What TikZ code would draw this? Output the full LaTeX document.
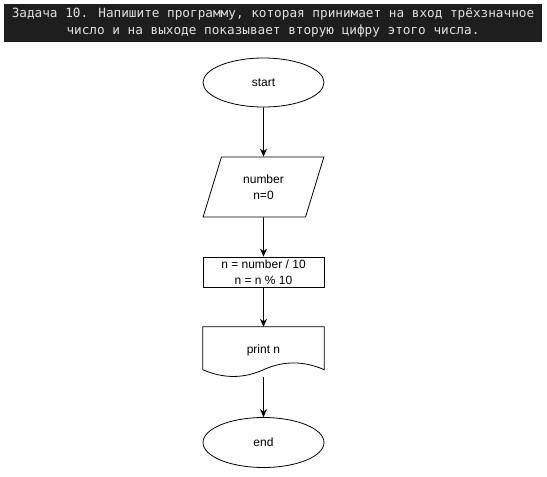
\documentclass[tikz,border=0pt]{standalone}
\usepackage{fontspec}
\setmainfont{Liberation Sans}
\newfontfamily\taskfont{DejaVu Sans Mono}
\usepackage{tikz}
\usetikzlibrary{arrows.meta,positioning,shapes.geometric,calc}
\definecolor{taskBar}{HTML}{1E1E1E}
\definecolor{taskText}{HTML}{E2E2E2}
\definecolor{chartInk}{HTML}{000000}
\tikzset{
  headerbar/.style={
    rectangle,
    fill=taskBar,
    minimum width=538pt,
    minimum height=38pt,
    inner sep=0pt,
    align=center,
    text=taskText,
    font=\taskfont\fontsize{12.7}{17}\selectfont
  },
  terminal/.style={
    ellipse,
    draw=chartInk,
    line width=0.8pt,
    minimum width=121pt,
    minimum height=49pt,
    inner sep=0pt,
    align=center,
    font=\fontsize{12}{15.5}\selectfont
  },
  inputbox/.style={
    trapezium,
    trapezium left angle=70,
    trapezium right angle=110,
    trapezium stretches=true,
    draw=chartInk,
    line width=0.8pt,
    minimum width=121pt,
    minimum height=60pt,
    inner sep=0pt,
    align=center,
    font=\fontsize{12}{15.5}\selectfont
  },
  process/.style={
    rectangle,
    draw=chartInk,
    line width=0.8pt,
    minimum width=121pt,
    minimum height=30pt,
    inner sep=0pt,
    align=center,
    font=\fontsize{12}{15.5}\selectfont
  },
  docshape/.style={
    rectangle,
    minimum width=121pt,
    minimum height=50pt,
    inner sep=0pt,
    align=center,
    font=\fontsize{12}{15.5}\selectfont
  },
  arrow/.style={
    -{Stealth[length=8pt,width=7pt]},
    line width=0.8pt,
    draw=chartInk
  }
}

\begin{document}
\begin{tikzpicture}[x=1pt,y=-1pt]
  \useasboundingbox[fill=white] (0,0) rectangle (547,477);
  \node[headerbar] (task) at (273,23) {Задача 10. Напишите программу, которая принимает на вход трёхзначное\\число и на выходе показывает вторую цифру этого числа.};
  \node[terminal] (start) at (263.5,82.5) {start};
  \node[inputbox] (input) at (263.5,187) {number\\n=0};
  \node[process] (calc) at (263.5,272) {n = number / 10\\n = n \% 10};
  \node[docshape] (printn) at (263.5,352) {\raisebox{6pt}{print n}};
  \node[terminal,minimum height=50pt] (end) at (263.5,442.5) {end};
  % document outline with wavy bottom
  \draw[chartInk,line width=0.8pt] (printn.north west) -- (printn.north east)
    -- ($(printn.south east)+(0,-7.5)$)
    .. controls +(-20.5,-9) and +(19.8,-9) .. ($(printn.south)+(0,-7.5)$)
    .. controls +(-19.8,9) and +(20.5,9) .. ($(printn.south west)+(0,-7.5)$)
    -- cycle;
  \draw[arrow] (start) -- (input);
  \draw[arrow] (input) -- (calc);
  \draw[arrow] (calc) -- (printn);
  \draw[arrow] (printn) -- (end);
\end{tikzpicture}
\end{document}
